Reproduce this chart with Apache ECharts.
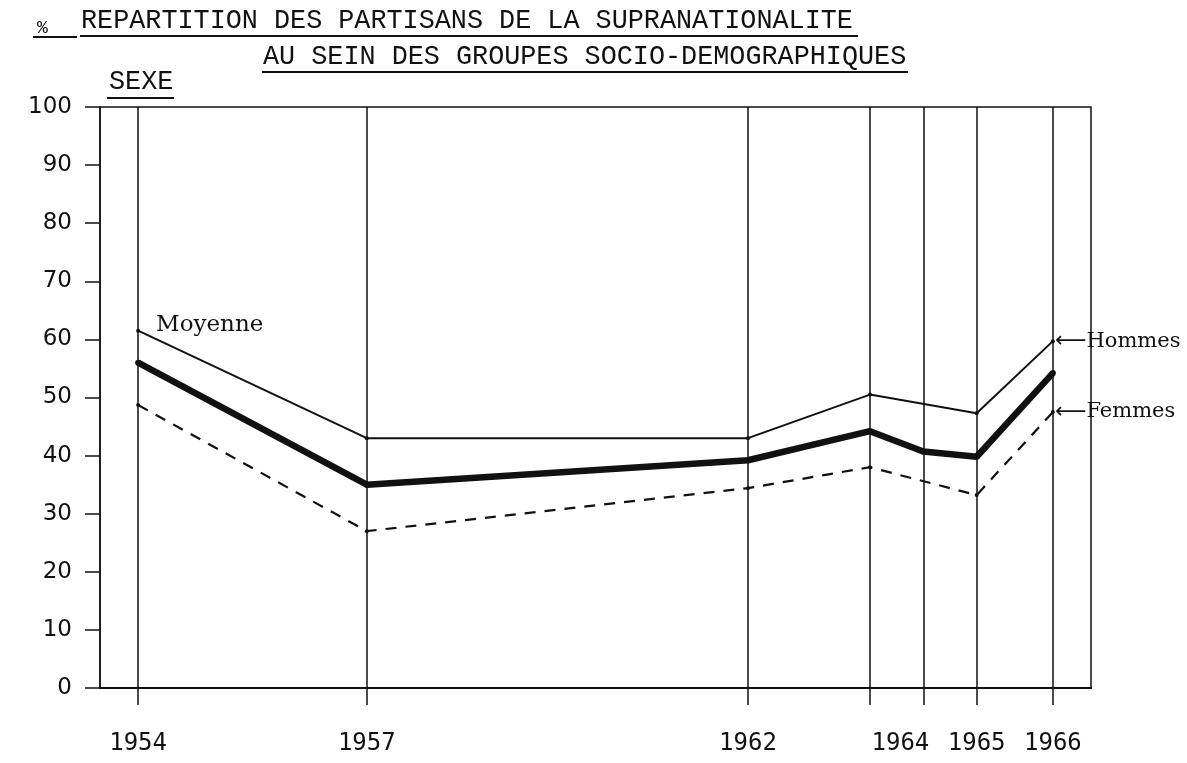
<!DOCTYPE html>
<html>
<head>
<meta charset="utf-8">
<script src="https://cdn.jsdelivr.net/npm/echarts@6/dist/echarts.min.js"></script>
<style>
html, body { margin: 0; padding: 0; background: #fff; }
#root { width: 1187px; height: 763px; }
</style>
</head>
<body>
<div id="root"></div>
<script>
// survey dates as decimal years (two surveys in 1964)
const surveyDates = [1954, 1957, 1962, 1963.6, 1964.3, 1965, 1966];
const yearLabels = [1954, 1957, 1962, 1964, 1965, 1966];

// % supranationalists, null = no point at that survey
const hommes  = [61.5, 43, 43, 50.5, null, 47.3, 59.7];
const moyenne = [56, 35, 39.2, 44.2, 40.7, 39.8, 54.2];
const femmes  = [48.7, 27, 34.4, 38, null, 33.2, 47.5];

const ink = '#111';
const typewriter = '26.8px "Liberation Mono"';

function pairs(values) {
    return surveyDates
        .map((d, i) => [d, values[i]])
        .filter(p => p[1] != null);
}

let root = document.getElementById('root');
let myChart = echarts.init(root);

let moyenneData = pairs(moyenne);
moyenneData[0] = {
    value: moyenneData[0],
    label: {
        show: true,
        formatter: 'Moyenne',
        position: 'right',
        offset: [10, -38],
        fontFamily: 'DejaVu Serif',
        fontSize: 23,
        color: ink
    }
};

function arrowLabel(name) {
    return {
        show: true,
        formatter: '{a|\u27F5}{t|' + name + '}',
        distance: 2,
        rich: {
            a: { fontFamily: 'DejaVu Sans', fontSize: 22, color: ink },
            t: { fontFamily: 'DejaVu Serif', fontSize: 21, color: ink }
        }
    };
}

let option = {
    animation: false,
    backgroundColor: '#fff',
    grid: {
        left: 100,
        right: 96,
        top: 107,
        bottom: 75,
        show: true,
        borderColor: ink,
        borderWidth: 1.5
    },
    xAxis: {
        type: 'value',
        min: 1953.5,
        max: 1966.5,
        axisLine: { show: true, lineStyle: { color: ink, width: 2 } },
        axisTick: {
            show: true,
            customValues: surveyDates,
            length: 17,
            lineStyle: { color: ink, width: 1.5 }
        },
        axisLabel: {
            customValues: yearLabels,
            formatter: v => String(Math.round(v)),
            fontFamily: 'DejaVu Sans Mono',
            fontSize: 24,
            color: ink,
            margin: 44
        },
        splitLine: { show: false }
    },
    yAxis: {
        type: 'value',
        min: 0,
        max: 100,
        interval: 10,
        axisLine: { show: true, lineStyle: { color: ink, width: 1.5 } },
        axisTick: { show: true, length: 15, lineStyle: { color: ink, width: 1.5 } },
        axisLabel: {
            fontFamily: 'DejaVu Sans',
            fontSize: 23,
            color: ink,
            margin: 28
        },
        splitLine: { show: false }
    },
    graphic: [
        { type: 'text', x: 37, y: 28, style: { text: '%', font: '18px "Liberation Mono"', fill: ink, verticalAlign: 'middle' } },
        { type: 'line', shape: { x1: 33, y1: 37, x2: 77, y2: 37 }, style: { stroke: ink, lineWidth: 2 } },
        { type: 'text', x: 81, y: 21, style: { text: 'REPARTITION DES PARTISANS DE LA SUPRANATIONALITE', font: typewriter, fill: ink, verticalAlign: 'middle' } },
        { type: 'line', shape: { x1: 80, y1: 36, x2: 858, y2: 36 }, style: { stroke: ink, lineWidth: 2 } },
        { type: 'text', x: 263, y: 57, style: { text: 'AU SEIN DES GROUPES SOCIO-DEMOGRAPHIQUES', font: typewriter, fill: ink, verticalAlign: 'middle' } },
        { type: 'line', shape: { x1: 262, y1: 72, x2: 908, y2: 72 }, style: { stroke: ink, lineWidth: 2 } },
        { type: 'text', x: 109, y: 82, style: { text: 'SEXE', font: typewriter, fill: ink, verticalAlign: 'middle' } },
        { type: 'line', shape: { x1: 107, y1: 98, x2: 174, y2: 98 }, style: { stroke: ink, lineWidth: 2 } }
    ],
    series: [
        {
            name: 'Moyenne',
            type: 'line',
            data: moyenneData,
            symbol: 'circle',
            symbolSize: 6,
            itemStyle: { color: ink },
            lineStyle: { color: ink, width: 6.5 },
            emphasis: { disabled: true },
            z: 3,
            markLine: {
                silent: true,
                symbol: 'none',
                label: { show: false },
                lineStyle: { color: ink, width: 1.5, type: 'solid' },
                data: surveyDates.map(d => ({ xAxis: d }))
            }
        },
        {
            name: 'Hommes',
            type: 'line',
            data: pairs(hommes),
            symbol: 'circle',
            symbolSize: 4,
            itemStyle: { color: ink },
            lineStyle: { color: ink, width: 2 },
            emphasis: { disabled: true },
            endLabel: arrowLabel('Hommes'),
            z: 3
        },
        {
            name: 'Femmes',
            type: 'line',
            data: pairs(femmes),
            symbol: 'circle',
            symbolSize: 4,
            itemStyle: { color: ink },
            lineStyle: { color: ink, width: 2.2, type: [11, 9] },
            emphasis: { disabled: true },
            endLabel: arrowLabel('Femmes'),
            z: 3
        }
    ]
};
myChart.setOption(option);
</script>
</body>
</html>
